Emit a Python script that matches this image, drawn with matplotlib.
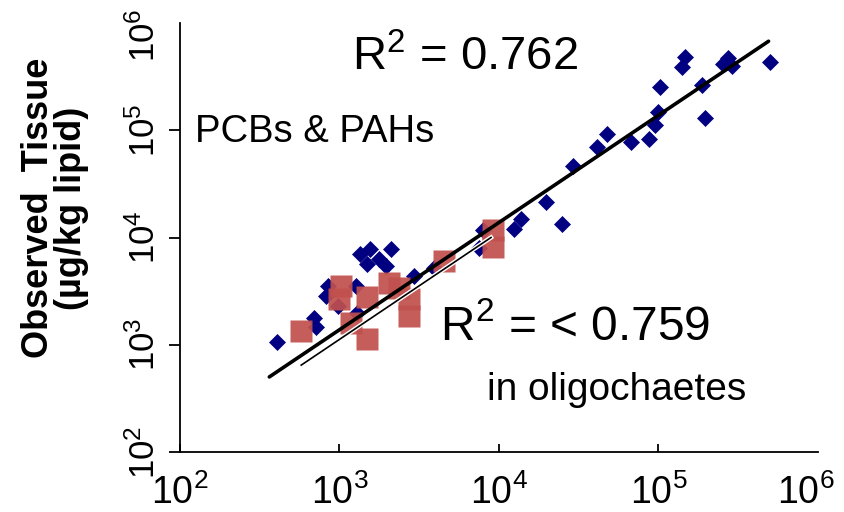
import numpy as np
import matplotlib
matplotlib.use("Agg")
from matplotlib import pyplot as plt
import matplotlib.patheffects as pe
import matplotlib.transforms as mtrans

plt.rcParams['font.family'] = ['Liberation Sans', 'DejaVu Sans']
plt.rcParams['mathtext.default'] = 'regular'

# PCBs & PAHs (blue diamonds)
blue_x = [405, 690, 711, 846, 821, 975, 1264, 1340, 1549, 2095, 1483, 1762, 1950,
          2917, 3892, 1283, 7888, 7447, 12330, 13640, 19580, 25000, 29300, 41400,
          47860, 67600, 87700, 95700, 99800, 102800, 141300, 147400, 188300,
          196800, 254800, 274000, 290600, 502000]
blue_y = [1067, 1778, 1468, 3516, 2844, 2296, 3516, 6966, 7745, 7745, 5623, 6252, 5383,
          4353, 5164, 1978, 11860, 7907, 12110, 14990, 21540, 13490, 46400, 69700,
          91900, 77450, 82600, 111200, 146800, 255500, 391600, 484000, 266500,
          129100, 417000, 474000, 400000, 435500]

# oligochaetes (red squares)
red_x = [573, 1019, 991, 1483, 1178, 1483, 2036, 2352, 2716, 2716, 4500, 9120, 9120]
red_y = [1349, 3516, 2667, 2782, 1600, 1137, 3750, 3374, 2667, 1858, 5995, 11860, 8070]

# fitted lines, log10(y) = slope * log10(x) + intercept
fit_all = dict(slope=1.0, intercept=0.14, x_from=2.56, x_to=5.69)
fit_oligo = dict(slope=1.0, intercept=0.05, x_from=2.76, x_to=3.95)

fig = plt.figure(figsize=(8.45, 5.12), dpi=100)
ax = fig.add_axes([180 / 845, 1 - 452 / 512, (818 - 180) / 845, (452 - 23) / 512])

ax.plot(blue_x, blue_y, 'D', color='#000080', ms=8.5, mec='#000080', mew=0.5, zorder=2)
ax.plot(red_x, red_y, 's', color='#C0504D', ms=16, mec='none', alpha=0.92, zorder=3)

lx = np.linspace(fit_oligo['x_from'], fit_oligo['x_to'], 50)
ax.plot(10 ** lx, 10 ** (fit_oligo['slope'] * lx + fit_oligo['intercept']), color='black', lw=1.2,
        path_effects=[pe.Stroke(linewidth=3.2, foreground='white'), pe.Normal()], zorder=4)
lx = np.linspace(fit_all['x_from'], fit_all['x_to'], 50)
ax.plot(10 ** lx, 10 ** (fit_all['slope'] * lx + fit_all['intercept']), color='black', lw=2.6,
        solid_capstyle='round', zorder=5)

ax.set_xscale('log')
ax.set_yscale('log')
ax.set_xlim(1e2, 1e6)
ax.set_ylim(1e2, 1e6)
ax.set_xticks([1e2, 1e3, 1e4, 1e5, 1e6])
ax.set_yticks([1e2, 1e3, 1e4, 1e5, 1e6])
ax.minorticks_off()

for s in ['top', 'right']:
    ax.spines[s].set_visible(False)
for s in ['left', 'bottom']:
    ax.spines[s].set_linewidth(1.3)

ax.tick_params(axis='x', direction='in', length=6, width=1.3, labelsize=27, pad=16)
ax.tick_params(axis='y', direction='out', length=8, width=1.3, labelsize=25, pad=5, labelrotation=90)
for t in ax.get_yticklabels():
    t.set_va('center')

# no tick marks at the far ends; nudge the end labels as in the original
ax.yaxis.get_major_ticks()[-1].tick1line.set_visible(False)
ax.xaxis.get_major_ticks()[-1].tick1line.set_visible(False)
lab = ax.get_xticklabels()[-1]
lab.set_transform(lab.get_transform() + mtrans.ScaledTranslation(-12 / 100, 0, fig.dpi_scale_trans))
lab = ax.get_yticklabels()[-1]
lab.set_transform(lab.get_transform() + mtrans.ScaledTranslation(0, -12 / 100, fig.dpi_scale_trans))

fig.text(55 / 845, 1 - 208 / 512, 'Observed  Tissue\n(µg/kg lipid)', rotation=90,
         ha='center', va='center', ma='center', fontsize=26, fontweight='bold', linespacing=0.95)

fig.text(352 / 845, 1 - 70 / 512, 'R$^2$ = 0.762', fontsize=34, va='baseline')
fig.text(195 / 845, 1 - 142 / 512, 'PCBs & PAHs', fontsize=27.5, va='baseline')
fig.text(440 / 845, 1 - 340 / 512, 'R$^2$ = < 0.759', fontsize=34.5, va='baseline')
fig.text(487 / 845, 1 - 400 / 512, 'in oligochaetes', fontsize=28, va='baseline')

fig.savefig('out.png', dpi=100)
